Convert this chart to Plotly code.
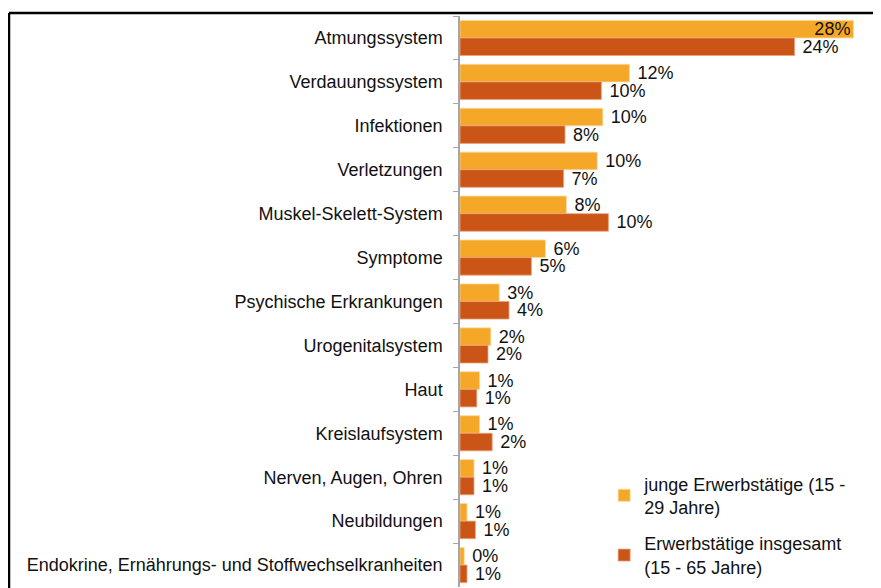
import plotly.graph_objects as go

categories = [
    "Atmungssystem",
    "Verdauungssystem",
    "Infektionen",
    "Verletzungen",
    "Muskel-Skelett-System",
    "Symptome",
    "Psychische Erkrankungen",
    "Urogenitalsystem",
    "Haut",
    "Kreislaufsystem",
    "Nerven, Augen, Ohren",
    "Neubildungen",
    "Endokrine, Ernährungs- und Stoffwechselkranheiten",
]
young = [28.1, 12.1, 10.2, 9.8, 7.6, 6.1, 2.8, 2.2, 1.4, 1.4, 1.0, 0.5, 0.3]
total = [23.9, 10.1, 7.5, 7.4, 10.6, 5.1, 3.5, 2.0, 1.2, 2.3, 1.0, 1.1, 0.5]
young_labels = ["28%", "12%", "10%", "10%", "8%", "6%", "3%", "2%", "1%", "1%", "1%", "1%", "0%"]
total_labels = ["24%", "10%", "8%", "7%", "10%", "5%", "4%", "2%", "1%", "2%", "1%", "1%", "1%"]

young_name = "junge Erwerbstätige (15 -<br>29 Jahre)"
total_name = "Erwerbstätige insgesamt<br>(15 - 65 Jahre)"

font_family = "Liberation Sans, Arial, sans-serif"

# page body adds an 8px offset, margins below account for it
L, T = 452, 8
PW = 881 - L
PH = 571

# top bar label would run off the page, so it sits at the bar end instead
young_pos = ["inside"] + ["outside"] * (len(young) - 1)

fig = go.Figure()
fig.add_trace(go.Bar(
    y=categories, x=young, orientation="h", name=young_name,
    legendgroup="a",
    marker=dict(color="#F5A827", line=dict(color="#FAD7A0", width=0.8)),
    text=[" " + t for t in young_labels],
    textposition=young_pos, insidetextanchor="end",
    textfont=dict(size=18, color="#111111", family=font_family),
    constraintext="none", cliponaxis=False,
))
fig.add_trace(go.Bar(
    y=categories, x=total, orientation="h", name=total_name,
    legendgroup="b",
    marker=dict(color="#CB5516", line=dict(color="#E8A27E", width=0.8)),
    text=[" " + t for t in total_labels],
    textposition="outside",
    textfont=dict(size=18, color="#111111", family=font_family),
    constraintext="none", cliponaxis=False,
))

fig.update_layout(
    width=881, height=588,
    margin=dict(l=L, r=0, t=T, b=588 - T - PH),
    paper_bgcolor="white", plot_bgcolor="white",
    barmode="group", bargap=0.2, bargroupgap=0,
    font=dict(family=font_family, size=18, color="#111111"),
    showlegend=True,
    legend=dict(
        x=0.336, y=0.213, xanchor="left", yanchor="top",
        font=dict(size=18, color="#111111"),
        tracegroupgap=10, bgcolor="rgba(0,0,0,0)",
    ),
    xaxis=dict(range=[0, PW / 14.0], visible=False),
    yaxis=dict(
        autorange="reversed", showline=True, linecolor="#A6A6A6", linewidth=1.5,
        ticks="outside", ticklen=5, tickcolor="#A6A6A6", tickson="boundaries",
        ticklabelstandoff=12, showgrid=False, zeroline=False,
        tickfont=dict(size=18, color="#111111"),
    ),
)

# chart frame (top and left edge of the embedded chart object)
fx = (9 - 8 - L) / PW
fy = 1 + 3 / PH
fig.add_shape(type="line", xref="paper", yref="paper",
              x0=fx, x1=1.05, y0=fy, y1=fy,
              line=dict(color="black", width=2.5))
fig.add_shape(type="line", xref="paper", yref="paper",
              x0=fx, x1=fx, y0=-0.05, y1=fy,
              line=dict(color="black", width=2.5))

fig.write_html("out.html")
